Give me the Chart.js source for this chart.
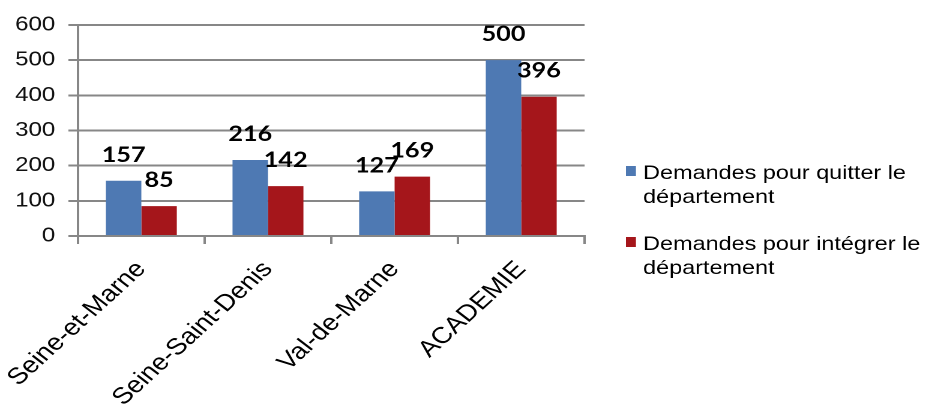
<!DOCTYPE html>
<html>
<head>
<meta charset="utf-8">
<script src="https://cdn.jsdelivr.net/npm/chart.js@4/dist/chart.umd.min.js"></script>
<style>
  html, body { margin: 0; padding: 0; background: #fff; }
  #wrap { width: 929px; height: 417px; overflow: hidden; position: relative; }
  #c { position: absolute; left: 0; top: 0; transform-origin: 0 0; transform: scaleX(1.2003); }
</style>
</head>
<body>
<div id="wrap"><canvas id="c"></canvas></div>
<script>
const categories = ["Seine-et-Marne", "Seine-Saint-Denis", "Val-de-Marne", "ACADEMIE"];
const quitter = [157, 216, 127, 500];
const integrer = [85, 142, 169, 396];
const seriesNames = [
  ["Demandes pour quitter le", "département"],
  ["Demandes pour intégrer le", "département"]
];
const yTicks = [0, 100, 200, 300, 400, 500, 600];

const BLUE = "#4E79B3";
const RED = "#A5161B";
const GRID = "#878787";

const W = 774, H = 417;
const canvas = document.getElementById("c");
canvas.style.width = W + "px";
canvas.style.height = H + "px";

const valueLabels = {
  id: "valueLabels",
  afterDatasetsDraw(chart) {
    const ctx = chart.ctx;
    ctx.save();
    ctx.font = "bold 21px Lato, 'Liberation Sans', sans-serif";
    ctx.fillStyle = "#000";
    ctx.textAlign = "center";
    ctx.textBaseline = "alphabetic";
    chart.data.datasets.forEach((ds, di) => {
      const meta = chart.getDatasetMeta(di);
      meta.data.forEach((el, i) => {
        ctx.fillText(String(ds.data[i]), el.x, el.y - 19);
      });
    });
    ctx.restore();
  }
};

const sideLegend = {
  id: "sideLegend",
  afterDraw(chart) {
    const ctx = chart.ctx;
    ctx.save();
    ctx.font = "19.5px 'Liberation Sans', Arial, sans-serif";
    ctx.fillStyle = "#000";
    ctx.textAlign = "left";
    ctx.textBaseline = "alphabetic";
    const colors = [BLUE, RED];
    const baseY = [179, 250];
    const boxX = 521.5, textX = 535.8;
    seriesNames.forEach((lines, i) => {
      ctx.fillStyle = colors[i];
      ctx.fillRect(boxX, baseY[i] - 13, 8.3, 10);
      ctx.fillStyle = "#000";
      lines.forEach((t, j) => ctx.fillText(t, textX, baseY[i] + j * 24));
    });
    ctx.restore();
  }
};

new Chart(canvas, {
  type: "bar",
  data: {
    labels: categories,
    datasets: [
      { label: seriesNames[0].join(" "), data: quitter, backgroundColor: BLUE, borderWidth: 0 },
      { label: seriesNames[1].join(" "), data: integrer, backgroundColor: RED, borderWidth: 0 }
    ]
  },
  options: {
    responsive: false,
    animation: false,
    devicePixelRatio: 2,
    layout: { padding: { top: 25, right: 287, left: 0, bottom: 0 } },
    plugins: { legend: { display: false }, tooltip: { enabled: false } },
    datasets: { bar: { categoryPercentage: 0.56, barPercentage: 1.0 } },
    scales: {
      x: {
        grid: { offset: true, drawOnChartArea: false, drawTicks: true, tickLength: 8, color: GRID, lineWidth: 2 },
        border: { display: true, color: GRID, width: 2 },
        ticks: {
          autoSkip: false, maxRotation: 47.5, minRotation: 47.5, padding: 12,
          color: "#000",
          font: { family: "'Liberation Sans', Arial, sans-serif", size: 23 }
        },
        afterFit(scale) { scale.height = 181; scale.paddingLeft = 0; scale.paddingRight = 0; }
      },
      y: {
        min: 0, max: 600,
        afterBuildTicks(scale) { scale.ticks = yTicks.map(v => ({ value: v })); },
        grid: { color: GRID, lineWidth: 2, drawTicks: true, tickLength: 8 },
        border: { display: true, color: GRID, width: 2 },
        ticks: {
          padding: 11, color: "#111",
          font: { family: "'Liberation Sans', Arial, sans-serif", size: 20 }
        },
        afterFit(scale) { scale.width = 65; scale.paddingTop = 0; scale.paddingBottom = 0; }
      }
    }
  },
  plugins: [valueLabels, sideLegend]
});
</script>
</body>
</html>
